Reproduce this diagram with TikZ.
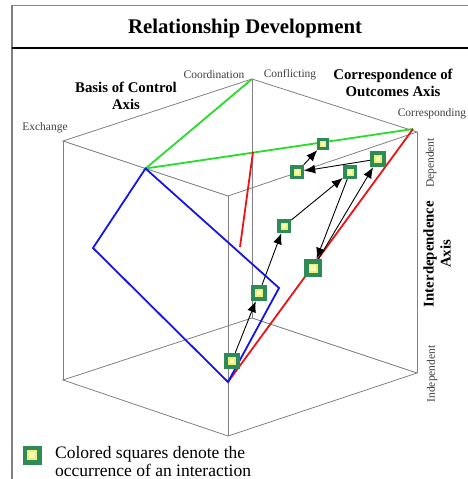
\documentclass[tikz,border=0pt]{standalone}
\usepackage{fontspec}
\setmainfont{Liberation Serif}
\usepackage{tikz}
\usetikzlibrary{arrows.meta, calc}

\definecolor{framebl}{RGB}{110,140,185}
\definecolor{sqgreen}{RGB}{46,139,87}
\definecolor{sqring}{RGB}{235,240,120}
\definecolor{sqfill}{RGB}{250,250,185}
\definecolor{planegreen}{RGB}{40,220,40}
\definecolor{planeblue}{RGB}{20,20,235}
\definecolor{planered}{RGB}{235,20,20}

\begin{document}
\begin{tikzpicture}[x=1pt, y=-1pt,
                cubeedge/.style={draw=gray, line width=0.8pt}, % edges of the cube
                plane/.style={line width=1.8pt}, % coloured planes
                axislabel/.style={font=\fontsize{14.8}{17}\selectfont\bfseries, align=center, inner sep=0pt},
                endlabel/.style={font=\fontsize{11.5}{13}\selectfont, text=black!75, inner sep=0pt},
                inter/.style={fill=sqgreen, minimum size=#1, inner sep=0pt,
                    path picture={
                        \filldraw[draw=sqring, fill=sqfill, line width=0.1*#1]
                        ($(path picture bounding box.south west)!0.3!(path picture bounding box.north east)$) rectangle
                        ($(path picture bounding box.south west)!0.7!(path picture bounding box.north east)$);
                    }}, % square for one interaction
                inter/.default=14,
                step arrow/.style={-{Latex[length=11pt, width=9pt]}, line width=0.9pt} % sequence of interactions
                ]
                \useasboundingbox (0,0) rectangle (468,479);

                % frame and header
                \draw[framebl, line width=1.5pt] (11,5.5) -- (468,5.5);
                \draw[gray, line width=1.5pt] (12,5) -- (12,479);
                \draw[line width=2pt] (12,48) -- (468,48);
                \node[font=\fontsize{20.8}{24}\selectfont\bfseries] (title) at (245,28) {Relationship Development};

                % cube corners
                \coordinate (tl) at (63,141);
                \coordinate (tf) at (228,196);
                \coordinate (tr) at (417,132);
                \coordinate (tb) at (252,79);
                \coordinate (bl) at (63,380);
                \coordinate (bf) at (228,436);
                \coordinate (br) at (417,373);
                \coordinate (bb) at (252,318);

                \draw[cubeedge] (tl) -- (tf) -- (tr) -- (tb) -- cycle;
                \draw[cubeedge] (bl) -- (bf) -- (br) -- (bb) -- cycle;
                \draw[cubeedge] (tl) -- (bl) (tf) -- (bf) (tr) -- (br) (tb) -- (bb);

                % planes
                \coordinate (gmid) at ($(tl)!0.5!(tf)$);
                \coordinate (corr) at (413,129);
                \coordinate (fmid) at (228,382);
                \coordinate (bleft) at (93,248);
                \coordinate (bright) at (279,288);
                \coordinate (rtop) at (253,152);
                \coordinate (rend) at (240,247);

                \draw[plane, planegreen] (tb) -- (gmid) -- (corr);
                \draw[plane, planered] (corr) -- (fmid);
                \draw[plane, planered] (rtop) -- (rend);
                \draw[plane, planeblue] (gmid) -- (bleft) -- (fmid) -- (bright) -- cycle;

                % axis labels
                \node[axislabel] (control) at (126,96) {Basis of Control\\Axis};
                \node[axislabel] (outcomes) at (393,83) {Correspondence of\\Outcomes Axis};
                \node[axislabel, rotate=90] (interdep) at (437,254) {Interdependence\\Axis};

                \node[endlabel] (coord) at (214,75) {Coordination};
                \node[endlabel] (confl) at (290,75) {Conflicting};
                \node[endlabel] (exch) at (45,128) {Exchange};
                \node[endlabel] (corrlab) at (432,114) {Corresponding};
                \node[endlabel, rotate=90] (dep) at (431,163) {Dependent};
                \node[endlabel, rotate=90] (indep) at (432,374) {Independent};

                % interactions
                \node[inter=16] (s1) at (232,361) {};
                \node[inter=16] (s2) at (259,293) {};
                \node[inter=14] (s3) at (284,226) {};
                \node[inter=14] (s4) at (350,172) {};
                \node[inter=18] (s5) at (313,268) {};
                \node[inter=16] (s6) at (378,159) {};
                \node[inter=14] (s7) at (297,172) {};
                \node[inter=12] (s8) at (323,144) {};

                \draw[step arrow] (s1) -- (s2);
                \draw[step arrow] (s2) -- (s3);
                \draw[step arrow] (s3) -- (s4);
                \draw[step arrow] (s4) -- (s5);
                \draw[step arrow] (s5) -- (s6);
                \draw[step arrow] (s6) -- (s7);
                \draw[step arrow] (s7) -- (s8);

                % legend
                \node[inter=19] (key) at (32,455) {};
                \node[anchor=north west, align=left, inner sep=0pt,
                      font=\fontsize{17.5}{18}\selectfont] (keytext) at (55,446) {Colored squares denote the\\occurrence of an interaction};
            \end{tikzpicture}
\end{document}
